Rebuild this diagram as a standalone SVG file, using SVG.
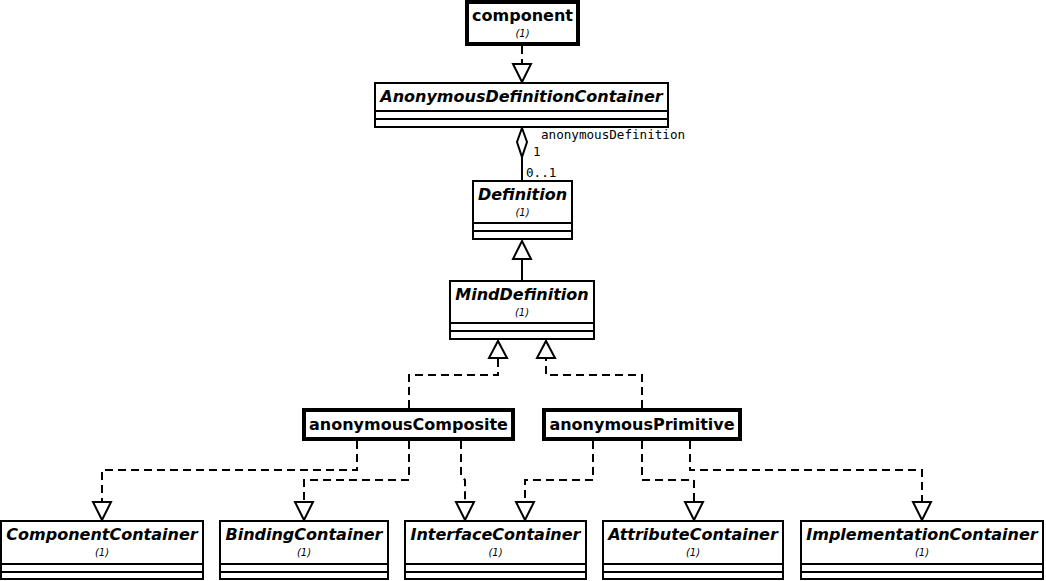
<svg xmlns="http://www.w3.org/2000/svg" width="1046" height="581" viewBox="0 0 1046 581">
<style>
.box{fill:#fff;stroke:#000;stroke-width:2}
.thick{fill:#fff;stroke:#000;stroke-width:4}
.sep{stroke:#000;stroke-width:2}
.t{font-family:"DejaVu Sans",sans-serif;font-weight:bold;font-style:italic;font-size:16px;text-anchor:middle}
.tb{font-family:"DejaVu Sans",sans-serif;font-weight:bold;font-size:16px;text-anchor:middle}
.m{font-family:"DejaVu Sans",sans-serif;font-style:italic;font-size:10px;text-anchor:middle}
.lbl{font-family:"DejaVu Sans Mono",monospace;font-size:12.6px}
.c{fill:none;stroke:#000;stroke-width:2}
.d{fill:none;stroke:#000;stroke-width:2;stroke-dasharray:8,5}
.tri{fill:#fff;stroke:#000;stroke-width:2}
</style>
<rect width="1046" height="581" fill="#fff"/>
<g id="connectors">
<line class="d" x1="522" y1="46" x2="522" y2="64"/>
<polygon class="tri" points="513,64 531,64 522,82"/>
<line class="c" x1="522" y1="157" x2="522" y2="181"/>
<polygon class="tri" points="522,128 527,142 522,157 517,142"/>
<line class="c" x1="522" y1="259" x2="522" y2="281"/>
<polygon class="tri" points="513,259 531,259 522,241"/>
<path class="d" d="M409,408 V375 H498 V358"/>
<polygon class="tri" points="489,358 507,358 498,341"/>
<path class="d" d="M642,408 V375 H546 V358"/>
<polygon class="tri" points="537,358 555,358 546,341"/>
<path class="d" d="M357,441 V470 H102 V502"/>
<polygon class="tri" points="93,502 111,502 102,520"/>
<path class="d" d="M409,441 V480 H304 V502"/>
<polygon class="tri" points="295,502 313,502 304,520"/>
<path class="d" d="M461,441 V476 L465,480 V502"/>
<polygon class="tri" points="456,502 474,502 465,520"/>
<path class="d" d="M593,441 V480 H525 V502"/>
<polygon class="tri" points="516,502 534,502 525,520"/>
<path class="d" d="M642,441 V480 H694 V502"/>
<polygon class="tri" points="685,502 703,502 694,520"/>
<path class="d" d="M690,441 V470 H922 V502"/>
<polygon class="tri" points="913,502 931,502 922,520"/>
<text class="lbl" x="541" y="139">anonymousDefinition</text>
<text class="lbl" x="533" y="156">1</text>
<text class="lbl" x="526" y="177">0..1</text>
</g>
<g id="component">
<rect class="thick" x="467" y="2" width="111" height="42"/>
<text class="tb" x="522.5" y="21">component</text>
<text class="m" x="522.5" y="37">(1)</text>
</g>
<g id="AnonymousDefinitionContainer">
<rect class="box" x="375" y="83" width="293" height="44"/>
<line class="sep" x1="375" y1="111" x2="668" y2="111"/>
<line class="sep" x1="375" y1="119" x2="668" y2="119"/>
<text class="t" x="521.5" y="102">AnonymousDefinitionContainer</text>
</g>
<g id="Definition">
<rect class="box" x="473" y="181" width="99" height="58"/>
<line class="sep" x1="473" y1="223" x2="572" y2="223"/>
<line class="sep" x1="473" y1="231" x2="572" y2="231"/>
<text class="t" x="522.5" y="200">Definition</text>
<text class="m" x="522.5" y="216">(1)</text>
</g>
<g id="MindDefinition">
<rect class="box" x="450" y="281" width="144" height="58"/>
<line class="sep" x1="450" y1="323" x2="594" y2="323"/>
<line class="sep" x1="450" y1="331" x2="594" y2="331"/>
<text class="t" x="522" y="300">MindDefinition</text>
<text class="m" x="522" y="316">(1)</text>
</g>
<g id="anonymousComposite">
<rect class="thick" x="304" y="410" width="209" height="29"/>
<text class="tb" x="408.5" y="430">anonymousComposite</text>
</g>
<g id="anonymousPrimitive">
<rect class="thick" x="544" y="410" width="196" height="29"/>
<text class="tb" x="642" y="430">anonymousPrimitive</text>
</g>
<g id="ComponentContainer">
<rect class="box" x="1" y="521" width="202" height="58"/>
<line class="sep" x1="1" y1="564" x2="203" y2="564"/>
<line class="sep" x1="1" y1="572" x2="203" y2="572"/>
<text class="t" x="102" y="540">ComponentContainer</text>
<text class="m" x="102" y="556">(1)</text>
</g>
<g id="BindingContainer">
<rect class="box" x="220" y="521" width="168" height="58"/>
<line class="sep" x1="220" y1="564" x2="388" y2="564"/>
<line class="sep" x1="220" y1="572" x2="388" y2="572"/>
<text class="t" x="304" y="540">BindingContainer</text>
<text class="m" x="304" y="556">(1)</text>
</g>
<g id="InterfaceContainer">
<rect class="box" x="405" y="521" width="181" height="58"/>
<line class="sep" x1="405" y1="564" x2="586" y2="564"/>
<line class="sep" x1="405" y1="572" x2="586" y2="572"/>
<text class="t" x="495.5" y="540">InterfaceContainer</text>
<text class="m" x="495.5" y="556">(1)</text>
</g>
<g id="AttributeContainer">
<rect class="box" x="603" y="521" width="180" height="58"/>
<line class="sep" x1="603" y1="564" x2="783" y2="564"/>
<line class="sep" x1="603" y1="572" x2="783" y2="572"/>
<text class="t" x="693" y="540">AttributeContainer</text>
<text class="m" x="693" y="556">(1)</text>
</g>
<g id="ImplementationContainer">
<rect class="box" x="801" y="521" width="242" height="58"/>
<line class="sep" x1="801" y1="564" x2="1043" y2="564"/>
<line class="sep" x1="801" y1="572" x2="1043" y2="572"/>
<text class="t" x="922" y="540">ImplementationContainer</text>
<text class="m" x="922" y="556">(1)</text>
</g>
</svg>
